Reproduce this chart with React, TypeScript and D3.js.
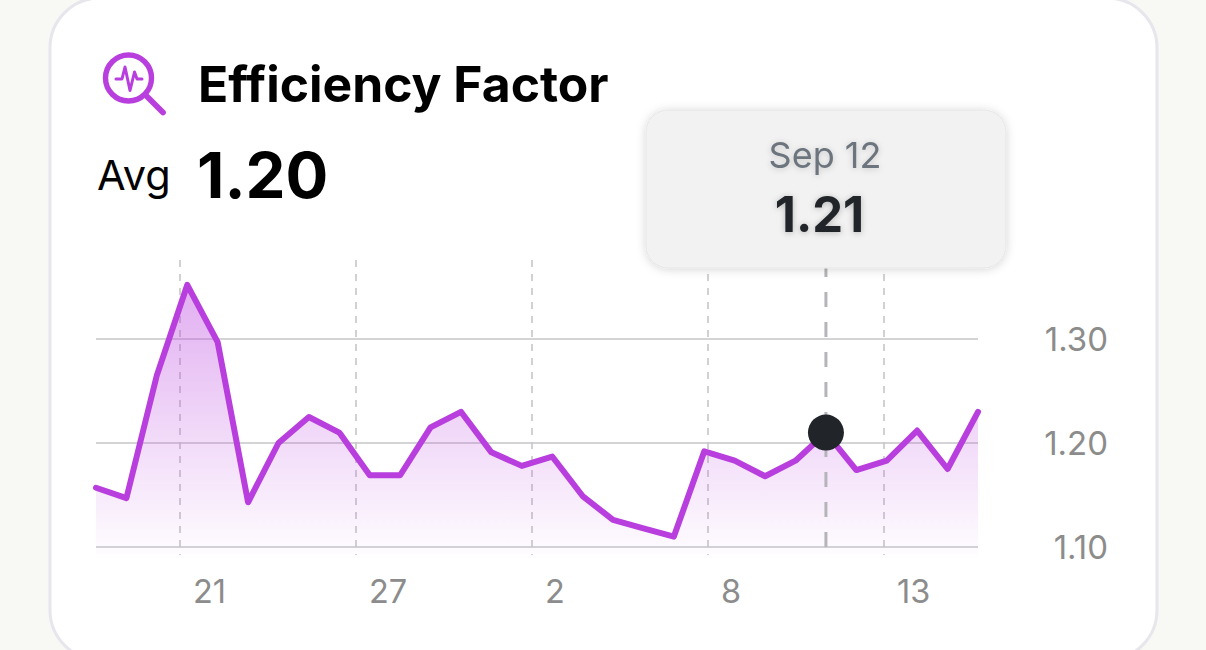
import * as React from 'react'
import {useEffect, useRef} from 'react'
import * as d3 from 'd3'

const values = [1.157, 1.147, 1.265, 1.352, 1.297, 1.143, 1.2, 1.225, 1.21, 1.169,
  1.169, 1.215, 1.23, 1.191, 1.178, 1.187, 1.149, 1.126, 1.118, 1.11,
  1.192, 1.183, 1.168, 1.183, 1.21, 1.174, 1.183, 1.212, 1.175, 1.23]
const dayLabels = ['21', '27', '2', '8', '13']
const yTicks = [1.1, 1.2, 1.3]
const selectedIndex = 24
const selectedDate = 'Sep 12'
const selectedValue = '1.21'
const avgValue = '1.20'
const title = 'Efficiency Factor'

const WIDTH = 1206
const HEIGHT = 650
const PURPLE = '#b83ede'
const FONT = 'Inter, "Noto Sans", sans-serif'

const App = () => {
  const ref = useRef<SVGSVGElement>(null)

  useEffect(() => {
    const svg = d3.select(ref.current)
    svg.selectAll('*').remove()

    const x = d3.scaleLinear().domain([0, values.length - 1]).range([96, 978])
    const y = d3.scaleLinear().domain([1.1, 1.3]).range([547, 339])
    const xGrid = d3.scalePoint<string>().domain(dayLabels).range([180, 884])

    const defs = svg.append('defs')
    const grad = defs.append('linearGradient')
      .attr('id', 'areaFill')
      .attr('x1', 0).attr('x2', 0).attr('y1', 0).attr('y2', 1)
    grad.append('stop').attr('offset', '0%').attr('stop-color', PURPLE).attr('stop-opacity', 0.42)
    grad.append('stop').attr('offset', '100%').attr('stop-color', PURPLE).attr('stop-opacity', 0.01)

    const shadow = defs.append('filter').attr('id', 'tipShadow')
      .attr('x', '-10%').attr('y', '-15%').attr('width', '120%').attr('height', '130%')
    shadow.append('feDropShadow').attr('dx', 0).attr('dy', 1).attr('stdDeviation', 5)
      .attr('flood-color', '#000').attr('flood-opacity', 0.16)

    // page + card
    svg.append('rect').attr('width', WIDTH).attr('height', HEIGHT).attr('fill', '#f8f8f5')
    svg.append('rect')
      .attr('x', 50).attr('y', -2).attr('width', 1107).attr('height', 662).attr('rx', 50)
      .attr('fill', '#fff').attr('stroke', '#e6e6ec').attr('stroke-width', 3)

    // header icon
    const icon = svg.append('g').attr('fill', 'none').attr('stroke', PURPLE).attr('stroke-linecap', 'round').attr('stroke-linejoin', 'round')
    icon.append('circle').attr('cx', 128.5).attr('cy', 78).attr('r', 23).attr('stroke-width', 5.4)
    icon.append('path').attr('d', 'M146 95.5L163 112.5').attr('stroke-width', 5.8)
    icon.append('path').attr('d', 'M116 79H122L125 67L130 90.5L134.5 72L137 79H142').attr('stroke-width', 3)

    svg.append('text').attr('x', 198).attr('y', 102)
      .attr('font-family', FONT).attr('font-weight', 700).attr('font-size', 49.8).attr('fill', '#000')
      .text(title)
    svg.append('text').attr('x', 97).attr('y', 190)
      .attr('font-family', FONT).attr('font-size', 41.5).attr('fill', '#000')
      .text('Avg')
    svg.append('text').attr('x', 197).attr('y', 198)
      .attr('font-family', FONT).attr('font-weight', 700).attr('font-size', 63.5).attr('fill', '#000')
      .text(avgValue)

    // horizontal grid + y labels
    svg.append('g').selectAll('line').data(yTicks).enter().append('line')
      .attr('x1', 96).attr('x2', 978)
      .attr('y1', d => y(d)).attr('y2', d => y(d))
      .attr('stroke', '#c6c6c8').attr('stroke-width', 1.6)
    svg.append('g').selectAll('text').data(yTicks).enter().append('text')
      .attr('x', 1108).attr('y', d => y(d) + 12)
      .attr('text-anchor', 'end')
      .attr('font-family', FONT).attr('font-size', 33).attr('fill', '#8c8c8c')
      .text(d => d.toFixed(2))

    // vertical grid + day labels
    svg.append('g').selectAll('line').data(dayLabels).enter().append('line')
      .attr('x1', d => xGrid(d)).attr('x2', d => xGrid(d))
      .attr('y1', 260).attr('y2', 555)
      .attr('stroke', '#c6c6c8').attr('stroke-width', 1.6).attr('stroke-dasharray', '7 7')
    svg.append('g').selectAll('text').data(dayLabels).enter().append('text')
      .attr('x', d => xGrid(d) + 13)
      .attr('y', 603)
      .attr('font-family', FONT).attr('font-size', 32.5).attr('fill', '#8c8c8c')
      .text(d => d)

    const area = d3.area<number>().x((d, i) => x(i)).y0(y(1.09)).y1(d => y(d))
    const line = d3.line<number>().x((d, i) => x(i)).y(d => y(d))

    svg.append('path').attr('d', area(values)).attr('fill', 'url(#areaFill)')

    // selection marker
    svg.append('line')
      .attr('x1', x(selectedIndex)).attr('x2', x(selectedIndex))
      .attr('y1', 262).attr('y2', y(1.1))
      .attr('stroke', '#b4b4b9').attr('stroke-width', 3).attr('stroke-dasharray', '15 15')

    svg.append('path').attr('d', line(values))
      .attr('fill', 'none').attr('stroke', PURPLE).attr('stroke-width', 6)
      .attr('stroke-linejoin', 'round').attr('stroke-linecap', 'round')

    svg.append('circle')
      .attr('cx', x(selectedIndex)).attr('cy', y(values[selectedIndex])).attr('r', 18)
      .attr('fill', '#212529')

    // tooltip
    const tip = svg.append('g')
    tip.append('rect')
      .attr('x', 646).attr('y', 110).attr('width', 360).attr('height', 158).attr('rx', 22)
      .attr('fill', '#f2f2f2').attr('stroke', '#e6e6e6').attr('filter', 'url(#tipShadow)')
    tip.append('text').attr('x', 825).attr('y', 168).attr('text-anchor', 'middle')
      .attr('font-family', FONT).attr('font-size', 36).attr('fill', '#6c757d')
      .style('filter', 'drop-shadow(0 1px 3px rgba(0,0,0,0.18))')
      .text(selectedDate)
    tip.append('text').attr('x', 819.5).attr('y', 232).attr('text-anchor', 'middle')
      .attr('font-family', FONT).attr('font-weight', 700).attr('font-size', 49).attr('fill', '#212529')
      .style('filter', 'drop-shadow(0 1px 3px rgba(0,0,0,0.25))')
      .text(selectedValue)
  }, [])

  return (
    <svg ref={ref} width={WIDTH} height={HEIGHT} style={{position: 'fixed', left: 0, top: 0, display: 'block'}}></svg>
  )
}

export default App
